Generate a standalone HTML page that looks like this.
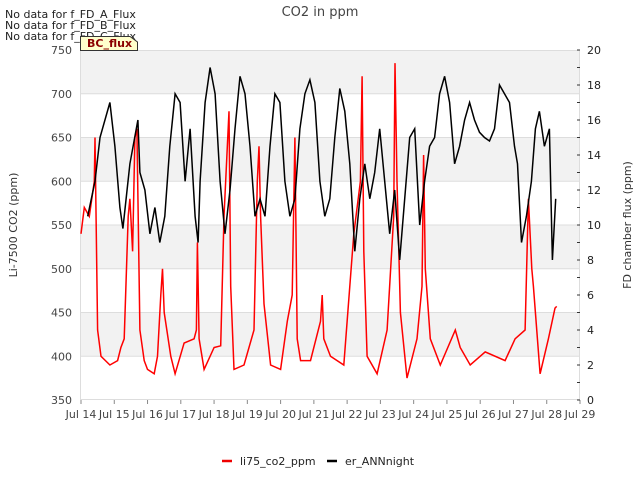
<!DOCTYPE html>
<html><head><meta charset="utf-8"><style>
body{margin:0;background:#fff;font-family:"Liberation Sans","DejaVu Sans",sans-serif}
svg text{font-family:"DejaVu Sans","Liberation Sans",sans-serif}
</style></head><body>
<svg width="640" height="480" xmlns="http://www.w3.org/2000/svg">
<g id="bands"></g>
<rect x="80.5" y="50.5" width="499" height="349" fill="none" stroke="#ddd"/>
<g id="xaxis"></g>
<g id="yleft"></g>
<g id="yright"></g>
<g id="series"></g>
<text x="320" y="16" text-anchor="middle" font-size="13" fill="#444">CO2 in ppm</text>
<text transform="translate(17,225) rotate(-90)" text-anchor="middle" font-size="11" fill="#333">Li-7500 CO2 (ppm)</text>
<text transform="translate(631,225) rotate(-90)" text-anchor="middle" font-size="11" fill="#333">FD chamber flux (ppm)</text>
<text x="5" y="18" font-size="11" fill="#222">No data for f_FD_A_Flux</text>
<text x="5" y="29" font-size="11" fill="#222">No data for f_FD_B_Flux</text>
<text x="5" y="40" font-size="11" fill="#222">No data for f_FD_C_Flux</text>
<g><path d="M80.5,50.5 L80.5,36.5 L130,36.5 L137.5,42 L137.5,50.5 Z" fill="#ffffcc" stroke="#333"/>
<text x="87" y="47" font-size="11" font-weight="bold" fill="#8b0000">BC_flux</text></g>
<g>
<line x1="222" y1="461" x2="232" y2="461" stroke="#e00" stroke-width="2.5"/>
<text x="240" y="465" font-size="11" fill="#222">li75_co2_ppm</text>
<line x1="327" y1="461" x2="337" y2="461" stroke="#000" stroke-width="2.5"/>
<text x="345" y="465" font-size="11" fill="#222">er_ANNnight</text>
</g>
</svg>
<script>
const xTickLabels=["Jul 14","Jul 15","Jul 16","Jul 17","Jul 18","Jul 19","Jul 20","Jul 21","Jul 22","Jul 23","Jul 24","Jul 25","Jul 26","Jul 27","Jul 28","Jul 29"];
const leftTicks=[350,400,450,500,550,600,650,700,750];
const rightTicks=[0,2,4,6,8,10,12,14,16,18,20];
const co2Days=[14.0,14.1,14.25,14.4,14.42,14.5,14.6,14.87,15.1,15.2,15.3,15.42,15.47,15.55,15.62,15.68,15.77,15.9,16.0,16.2,16.3,16.4,16.45,16.5,16.7,16.83,17.1,17.4,17.47,17.5,17.55,17.7,18.0,18.2,18.3,18.45,18.5,18.6,18.9,19.2,19.3,19.35,19.4,19.5,19.7,20.0,20.2,20.35,20.43,20.5,20.6,20.9,21.2,21.25,21.3,21.5,21.9,22.2,22.4,22.45,22.5,22.6,22.9,23.2,23.4,23.44,23.5,23.6,23.8,24.1,24.25,24.3,24.35,24.5,24.8,25.25,25.4,25.7,26.15,26.75,27.05,27.35,27.45,27.55,27.6,27.8,28.05,28.25,28.3];
const co2Vals=[540,570,560,600,650,430,400,390,395,410,420,560,580,520,650,660,430,395,385,380,400,470,500,450,400,380,415,420,430,530,420,385,410,412,560,680,480,385,390,430,600,640,560,460,390,385,440,470,650,420,395,395,440,470,420,400,390,540,600,720,520,400,380,430,560,735,600,450,375,420,480,630,500,420,390,430,410,390,405,395,420,430,580,500,480,380,420,455,457];
const annDays=[14.2,14.42,14.57,14.87,15.02,15.17,15.26,15.47,15.71,15.77,15.92,16.07,16.22,16.37,16.52,16.67,16.83,16.98,17.13,17.28,17.43,17.52,17.58,17.73,17.88,18.03,18.18,18.33,18.48,18.63,18.78,18.93,19.08,19.23,19.38,19.53,19.68,19.83,19.98,20.13,20.28,20.43,20.58,20.73,20.88,21.03,21.18,21.33,21.48,21.63,21.78,21.93,22.08,22.23,22.38,22.53,22.68,22.83,22.98,23.13,23.28,23.43,23.58,23.73,23.88,24.03,24.18,24.33,24.48,24.63,24.78,24.93,25.08,25.23,25.38,25.53,25.68,25.83,25.98,26.13,26.28,26.43,26.58,26.73,26.88,27.03,27.12,27.24,27.39,27.54,27.66,27.78,27.93,28.08,28.17,28.27];
const annVals=[10.5,12.5,15,17,14.5,11,9.8,13.5,16,13,12,9.5,11,9,10.5,14.5,17.5,17,12.5,15.5,10.5,9,12.5,17,19,17.5,12.5,9.5,12,15.5,18.5,17.5,14.5,10.5,11.5,10.5,14.5,17.5,17,12.5,10.5,11.5,15.5,17.5,18.3,17,12.5,10.5,11.5,15,17.8,16.5,13.5,8.5,11.5,13.5,11.5,13,15.5,12.5,9.5,12,8,11.5,15,15.5,10,12.5,14.5,15,17.5,18.5,17,13.5,14.5,16,17,16,15.3,15,14.8,15.5,18,17.5,17,14.5,13.5,9,10.5,12.5,15.5,16.5,14.5,15.5,8,11.5];

const X0=81,X1=580,Y0=400,Y1=50;
const xs=d=>X0+(d-14)*(X1-X0)/15;
const yl=v=>Y0-(v-350)*(Y0-Y1)/400;
const yr=v=>Y0-v*(Y0-Y1)/20;
const NS="http://www.w3.org/2000/svg";
function mk(tag,attrs,parent){const e=document.createElementNS(NS,tag);for(const k in attrs)e.setAttribute(k,attrs[k]);parent.appendChild(e);return e;}
const bands=document.getElementById('bands');
for(let i=0;i<leftTicks.length-1;i++){
  const lo=leftTicks[i],hi=leftTicks[i+1];
  const r=mk('rect',{x:80,y:yl(hi),width:500,height:yl(lo)-yl(hi),fill:(i%2===1)?'#f2f2f2':'#fff'},bands);
  
  
  if(i>0){const l=mk('line',{x1:80,x2:580,y1:yl(lo),y2:yl(lo),stroke:'#ddd'},bands);
  
  }
}
const xa=document.getElementById('xaxis');
xTickLabels.forEach((t,i)=>{
  const x=xs(14+i);
  const tk=mk('line',{x1:x,x2:x,y1:400,y2:404,stroke:'#888'},xa);
  
  
  const tx=mk('text',{x:x,y:418,'text-anchor':'middle','font-size':'11',fill:'#444'},xa);
  tx.textContent=t;
  
  
});
const ya=document.getElementById('yleft');
leftTicks.forEach(v=>{
  const tx=mk('text',{x:72,y:yl(v)+4,'text-anchor':'end','font-size':'11',fill:'#444'},ya);
  tx.textContent=v;
  
  
});
const yb=document.getElementById('yright');
for(let v=0;v<=20;v++){
  const tk=mk('line',{x1:577,x2:580,y1:yr(v),y2:yr(v),stroke:'#333'},yb);
  
  
}
rightTicks.forEach(v=>{
  const tx=mk('text',{x:587,y:yr(v)+4,'font-size':'11',fill:'#222'},yb);
  tx.textContent=v;
  
  
});
const sg=document.getElementById('series');
const p1=mk('polyline',{points:co2Days.map((d,i)=>xs(d).toFixed(1)+','+yl(co2Vals[i]).toFixed(1)).join(' '),fill:'none',stroke:'#f00','stroke-width':'1.5'},sg);


const p2=mk('polyline',{points:annDays.map((d,i)=>xs(d).toFixed(1)+','+yr(annVals[i]).toFixed(1)).join(' '),fill:'none',stroke:'#000','stroke-width':'1.5'},sg);


</script>
</body></html>
